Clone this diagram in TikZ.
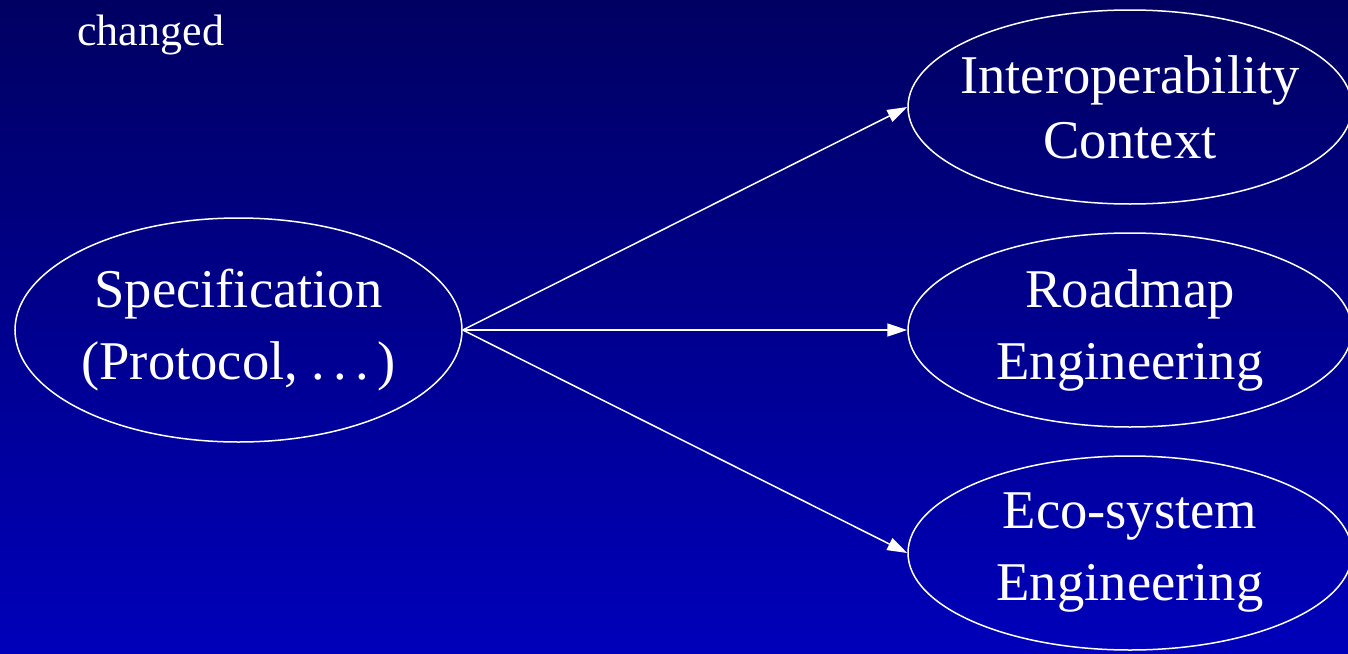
\documentclass[tikz,border=0pt]{standalone}
\usepackage{fontspec}
\setmainfont{Liberation Serif}
\usetikzlibrary{shapes.geometric,arrows.meta}
\definecolor{bgtop}{RGB}{0,0,98}
\definecolor{bgbot}{RGB}{0,0,186}
\begin{document}
\begin{tikzpicture}[x=0.5pt,y=-0.5pt,
  topic/.style={ellipse, draw=white, line width=0.75pt, text=white, align=center,
    inner sep=-20pt, font=\fontsize{27.3}{36}\selectfont},
  link/.style={draw=white, line width=0.75pt, -{Triangle[length=10pt,width=6.5pt]}}]
  % background
  \shade[top color=bgtop, bottom color=bgbot] (0,0) rectangle (1348,653);
  \useasboundingbox (0,0) rectangle (1348,653);
  % note
  \node[font=\fontsize{22}{26}\selectfont, text=white, anchor=base west, inner sep=0pt] (note) at (77,45) {changed};
  % source
  \node[topic, minimum width=223.5pt, minimum height=112pt] (spec) at (238.5,330)
    {Specification\\(Protocol, .\kern.15em.\kern.15em.\kern.15em)};
  % targets
  \node[topic, minimum width=222pt, minimum height=97pt, font=\fontsize{27.3}{32.5}\selectfont] (ctx) at (1130,107)
    {Interoperability\\Context};
  \node[topic, minimum width=222pt, minimum height=97pt] (road) at (1130,330)
    {Roadmap\\Engineering};
  \node[topic, minimum width=222pt, minimum height=97pt] (eco) at (1130,553)
    {Eco-system\\Engineering};
  % connectors
  \draw[link] (spec.east) -- (ctx.west);
  \draw[link] (spec.east) -- (road.west);
  \draw[link] (spec.east) -- (eco.west);
\end{tikzpicture}
\end{document}
